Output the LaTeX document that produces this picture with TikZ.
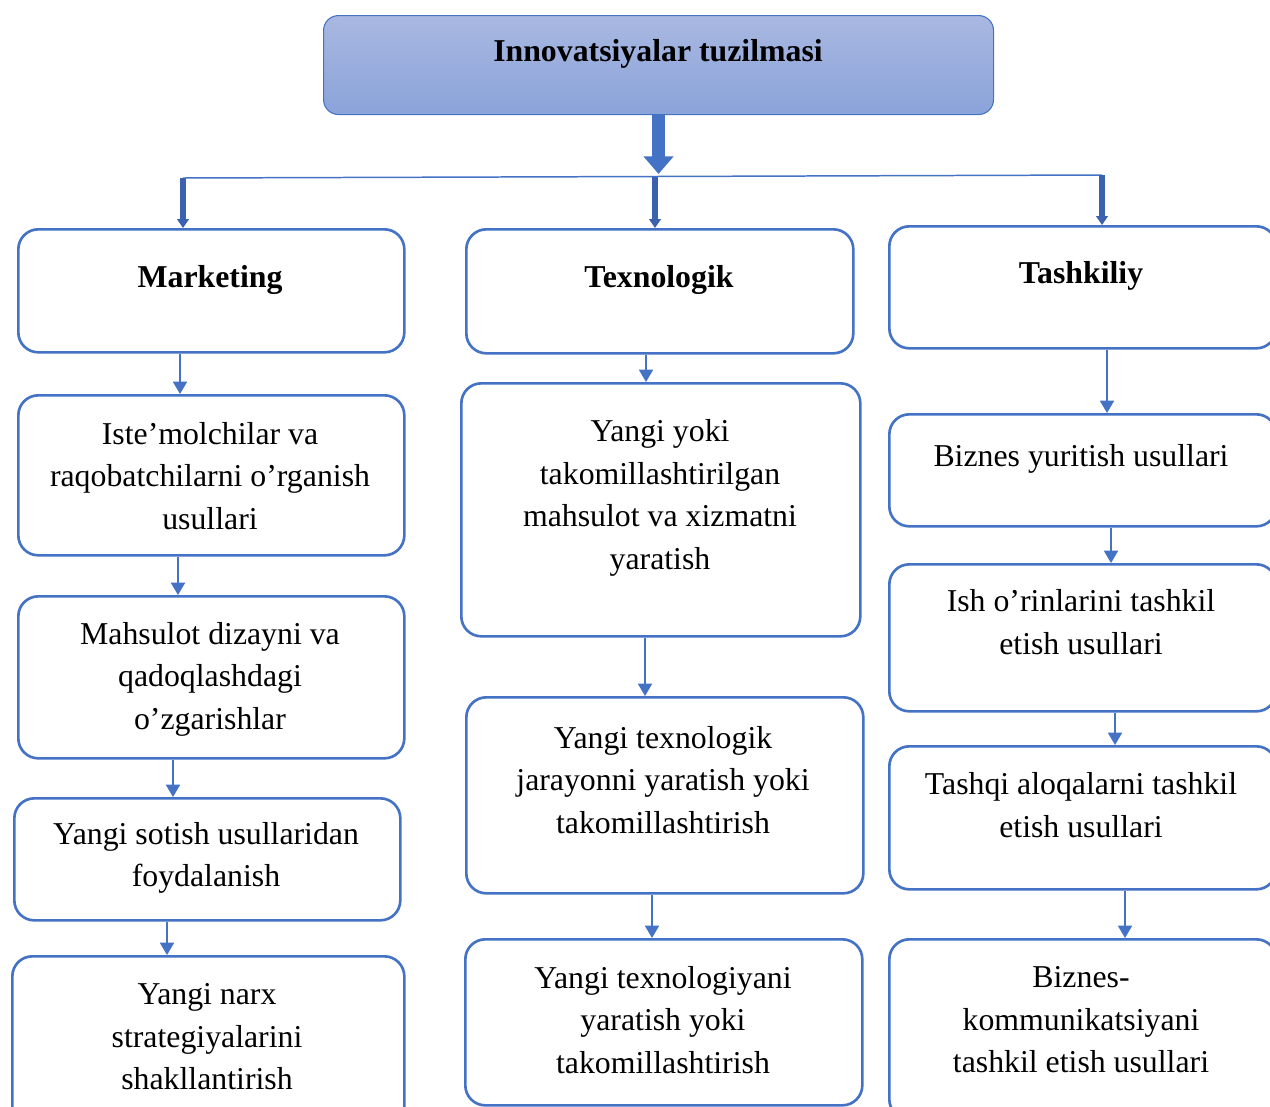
\documentclass[tikz,border=0pt]{standalone}
\usepackage{fontspec}
\setmainfont{Liberation Serif}
\usetikzlibrary{arrows.meta}
\definecolor{accent}{HTML}{4472C4}
\definecolor{accentDark}{HTML}{3A62AE}
\definecolor{headTop}{HTML}{A9B8E1}
\definecolor{headBottom}{HTML}{8AA3D9}
\tikzset{
  box/.style={draw=accent, line width=1.5pt, rounded corners=0.4cm,
    anchor=north west, inner sep=0pt},
  boxsize/.style 2 args={minimum width=#1*0.02cm, minimum height=#2*0.02cm},
  txt/.style={font=\fontsize{18.1}{24.2}\selectfont, align=center, inner sep=0pt},
  headtxt/.style={txt, font=\fontsize{18.1}{24.2}\selectfont\bfseries},
  arr/.style={draw=accent, line width=0.85pt, -{Triangle[width=8pt,length=7pt]}},
  drop/.style={draw=accentDark, line width=3.2pt, -{Triangle[width=6.5pt,length=5pt]}}
}
\begin{document}
\begin{tikzpicture}[x=0.02cm, y=-0.02cm]
\path[use as bounding box, clip] (0,0) rectangle (1270,1106);

% title
\node[box, boxsize={670}{99}, rounded corners=0.3cm, line width=0.6pt,
  top color=headTop, bottom color=headBottom] (top) at (323,15) {};
\node[headtxt] (top-t) at (658,54) {Innovatsiyalar tuzilmasi};

% boxes
\foreach \n/\x/\y/\w/\h in {
  mk/17/228/386/123, ist/17/394/386/160, diz/17/595/386/162,
  sot/13/797/386/122, narx/11/955/392/170,
  tx/465/228/387/124, mah/460/382/399/253, jar/465/696/397/196,
  tex/464/938/397/166,
  ts/888/225/387/122, biz/888/413/387/112, ish/888/563/387/147,
  tsh/888/745/387/143, kom/888/938/387/180}
  \node[box, boxsize={\w}{\h}] (\n) at (\x,\y) {};

% texts
\node[headtxt] (mk-t) at (210,280) {Marketing};
\node[txt] (ist-t) at (210,476) {Iste’molchilar va\\raqobatchilarni o’rganish\\usullari};
\node[txt] (diz-t) at (210,679) {Mahsulot dizayni va\\qadoqlashdagi\\o’zgarishlar};
\node[txt] (sot-t) at (206,858) {Yangi sotish usullaridan\\foydalanish};
\node[txt] (narx-t) at (207,1037) {Yangi narx\\strategiyalarini\\shakllantirish};
\node[headtxt] (tx-t) at (659,280) {Texnologik};
\node[txt] (mah-t) at (660,498) {Yangi yoki\\takomillashtirilgan\\mahsulot va xizmatni\\yaratish};
\node[txt] (jar-t) at (663,780) {Yangi texnologik\\jarayonni yaratish yoki\\takomillashtirish};
\node[txt] (tex-t) at (663,1020) {Yangi texnologiyani\\yaratish yoki\\takomillashtirish};
\node[headtxt] (ts-t) at (1081,276) {Tashkiliy};
\node[txt] (biz-t) at (1081,459) {Biznes yuritish usullari};
\node[txt] (ish-t) at (1081,622) {Ish o’rinlarini tashkil\\etish usullari};
\node[txt] (tsh-t) at (1081,805) {Tashqi aloqalarni tashkil\\etish usullari};
\node[txt] (kom-t) at (1081,1020) {Biznes-\\kommunikatsiyani\\tashkil etish usullari};

% branching
\coordinate (hl) at (183,178);
\coordinate (hm) at (655,176.5);
\coordinate (hr) at (1102,175);
\draw[accent, line width=0.85pt] (hl) -- (hm) -- (hr);
\draw[accent, line width=7.4pt, -{Triangle[width=16.5pt,length=10pt]}]
  (top.south) -- (top.south |- 0,174);
\draw[drop] (hl) -- (hl |- mk.north);
\draw[drop] (hm) -- (hm |- tx.north);
\draw[drop] (hr) -- (hr |- ts.north);

% columns
\foreach \a/\b/\x in {mk/ist/180, ist/diz/178, diz/sot/173, sot/narx/167,
  tx/mah/646, mah/jar/645, jar/tex/652,
  ts/biz/1107, biz/ish/1111, ish/tsh/1115, tsh/kom/1125}
  \draw[arr] (\a.south -| \x,0) -- (\b.north -| \x,0);
\end{tikzpicture}
\end{document}
